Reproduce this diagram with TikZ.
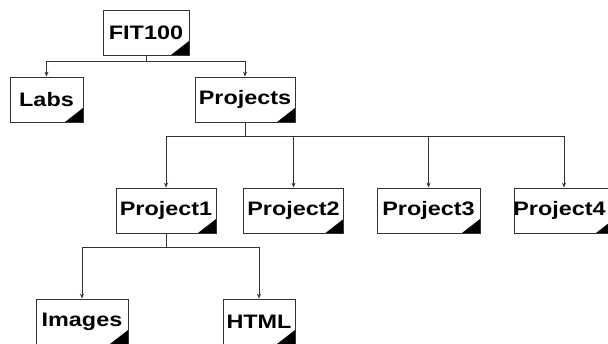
\documentclass[tikz,border=0pt]{standalone}
\usepackage{fontspec}
\newfontfamily\boxfont{Liberation Sans}[FakeStretch=1.2]
\usetikzlibrary{arrows.meta}
\begin{document}
\begin{tikzpicture}[x=1pt,y=-1pt,
  folder/.style={draw=black!80, line width=0.8pt, fill=white, inner sep=0pt,
    minimum height=45pt, font=\boxfont\bfseries\fontsize{19.5}{21}\selectfont,
    path picture={\fill[black] (path picture bounding box.south east)
      -- ++(-18pt,0pt) -- ++(18pt,14pt) -- cycle;}},
  conn/.style={draw=black!80, line width=0.8pt, -{Stealth[length=5pt,width=4pt]}},
  bar/.style={draw=black!80, line width=0.8pt}]
\useasboundingbox (0,0) rectangle (608,343);

% top level
\node[folder, minimum width=86pt] (fit) at (146,32.5) {FIT100};
\node[folder, minimum width=73pt] (labs) at (46.5,99.5) {Labs};
\node[folder, minimum width=100pt] (proj) at (245,99.5) {Projects};

% projects
\node[folder, minimum width=100pt] (p1) at (166,210.5) {Project1};
\node[folder, minimum width=100pt] (p2) at (293.5,210.5) {Project2};
\node[folder, minimum width=103pt] (p3) at (428.5,210.5) {Project3};
\node[folder, minimum width=100pt] (p4) at (564,210.5) {\hspace*{-9pt}Project4};

% contents of Project1
\node[folder, minimum width=92pt] (img) at (82,321.5) {Images};
\node[folder, minimum width=72pt] (html) at (259,321.5) {HTML};

% junction points of the tree
\coordinate (j1) at (146,61);
\coordinate (j2) at (245,136);
\coordinate (j3) at (166,247);

\draw[bar] (fit.south) -- (j1);
\draw[conn] (j1) -| (labs.north);
\draw[conn] (j1) -| (proj.north);

\draw[bar] (proj.south) -- (j2);
\draw[conn] (j2) -| (p1.north);
\draw[conn] (j2) -| (p2.north);
\draw[conn] (j2) -| (p3.north);
\draw[conn] (j2) -| (p4.north);

\draw[bar] (p1.south) -- (j3);
\draw[conn] (j3) -| (img.north);
\draw[conn] (j3) -| (html.north);
\end{tikzpicture}
\end{document}
